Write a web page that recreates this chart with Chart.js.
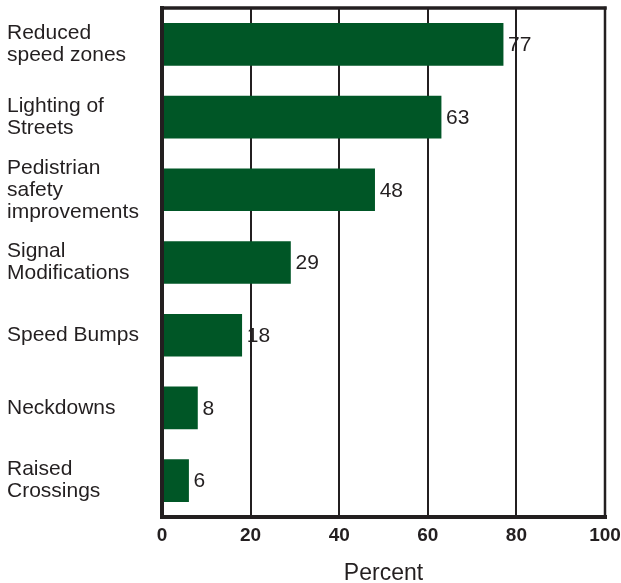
<!DOCTYPE html>
<html>
<head>
<meta charset="utf-8">
<script src="https://cdn.jsdelivr.net/npm/chart.js@4/dist/chart.umd.min.js"></script>
<style>
  html, body { margin: 0; padding: 0; background: #fff; }
  #wrap { width: 621px; height: 583px; }
</style>
</head>
<body>
<div id="wrap"><canvas id="c" width="621" height="583"></canvas></div>
<script>
// Traffic-calming measures, share of respondents (%)
const categories = [
  ["Reduced", "speed zones"],
  ["Lighting of", "Streets"],
  ["Pedistrian", "safety", "improvements"],
  ["Signal", "Modifications"],
  ["Speed Bumps"],
  ["Neckdowns"],
  ["Raised", "Crossings"]
];
const percentValues = [77, 63, 48, 29, 18, 8, 6];
const xTicks = [0, 20, 40, 60, 80, 100];
const axisTitle = "Percent";

const INK = "#231f20";
const BAR = "#005626";
const FONT = "'Liberation Sans', Arial, Helvetica, sans-serif";

// Number printed just past the end of each bar
const valueLabels = {
  id: "valueLabels",
  afterDatasetsDraw(chart) {
    const ctx = chart.ctx;
    const meta = chart.getDatasetMeta(0);
    ctx.save();
    ctx.font = "21px " + FONT;
    ctx.fillStyle = INK;
    ctx.textAlign = "left";
    ctx.textBaseline = "middle";
    meta.data.forEach((bar, i) => {
      ctx.fillText(String(percentValues[i]), bar.x + 5, bar.y + 1);
    });
    ctx.restore();
  }
};

// Outer frame: heavy left/bottom axes, lighter top/right
const frame = {
  id: "frame",
  afterDatasetsDraw(chart) {
    const { left, right, top, bottom } = chart.chartArea;
    const ctx = chart.ctx;
    ctx.save();
    ctx.strokeStyle = INK;
    ctx.lineCap = "square";
    ctx.lineWidth = 2.5;
    ctx.beginPath();
    ctx.moveTo(right, top); ctx.lineTo(right, bottom);
    ctx.stroke();
    ctx.lineWidth = 3.5;
    ctx.beginPath();
    ctx.moveTo(left, top); ctx.lineTo(right, top);
    ctx.stroke();
    ctx.lineWidth = 4;
    ctx.beginPath();
    ctx.moveTo(left, top); ctx.lineTo(left, bottom); ctx.lineTo(right, bottom);
    ctx.stroke();
    ctx.restore();
  }
};

new Chart(document.getElementById("c"), {
  type: "bar",
  data: {
    labels: categories,
    datasets: [{
      data: percentValues,
      backgroundColor: BAR,
      borderWidth: 0,
      barThickness: 42
    }]
  },
  options: {
    indexAxis: "y",
    responsive: false,
    animation: false,
    devicePixelRatio: 1,
    layout: { padding: { left: 7, right: 16, top: 8, bottom: 0 } },
    plugins: {
      legend: { display: false },
      tooltip: { enabled: false }
    },
    scales: {
      x: {
        min: 0,
        max: 100,
        afterBuildTicks(scale) {
          scale.ticks = xTicks.map(v => ({ value: v }));
        },
        afterFit(scale) {
          scale.height = 66;
          scale.paddingLeft = 0;
          scale.paddingRight = 0;
        },
        grid: {
          color: INK,
          lineWidth: 2,
          drawTicks: false
        },
        border: { display: false },
        ticks: {
          color: INK,
          padding: 7,
          maxRotation: 0,
          autoSkip: false,
          font: { family: FONT, size: 19, weight: "bold" }
        },
        title: {
          display: true,
          text: axisTitle,
          color: INK,
          padding: { top: 8, bottom: 0 },
          font: { family: FONT, size: 23, lineHeight: 0.85 }
        }
      },
      y: {
        afterFit(scale) {
          scale.width = 155;
          scale.paddingTop = 0;
          scale.paddingBottom = 0;
        },
        grid: { display: false, drawTicks: false },
        border: { display: false },
        ticks: {
          color: INK,
          crossAlign: "far",
          padding: 0,
          autoSkip: false,
          font: { family: FONT, size: 21, lineHeight: 1.05 }
        }
      }
    }
  },
  plugins: [valueLabels, frame]
});
</script>
</body>
</html>
